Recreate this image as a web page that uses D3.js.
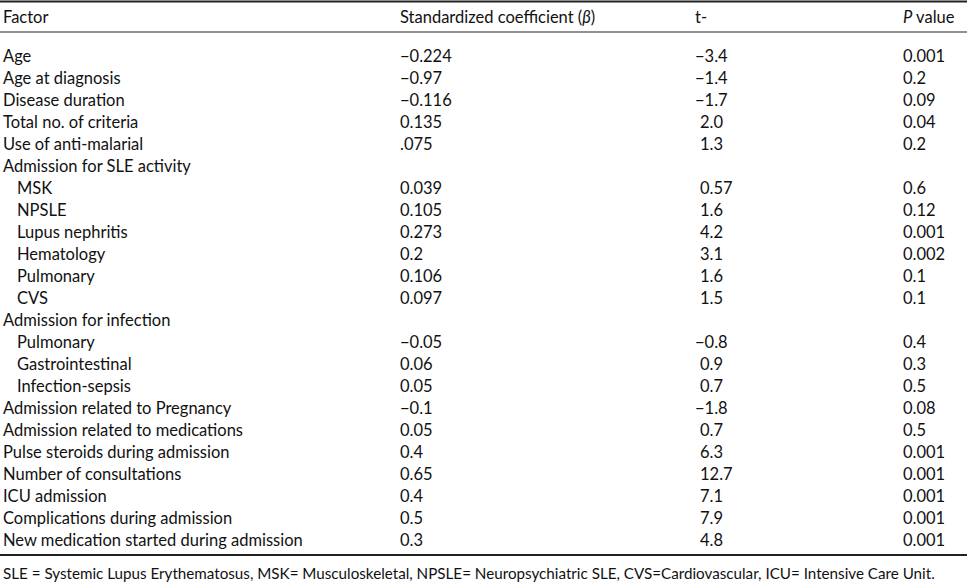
<!DOCTYPE html>
<html><head><meta charset="utf-8">
<script src="https://cdn.jsdelivr.net/npm/d3@7"></script>
<style>body{margin:0;background:#fff}text{font-family:Lato,"Open Sans",sans-serif;font-size:16.5px;fill:#111}</style>
</head><body><svg id="tbl" width="967" height="584"></svg>
<script>
// Table content
const headers = ["Factor", "Standardized coefficient (β)", "t-", "P value"];
const factors = ["Age", "Age at diagnosis", "Disease duration", "Total no. of criteria", "Use of anti-malarial",
  "Admission for SLE activity", "MSK", "NPSLE", "Lupus nephritis", "Hematology", "Pulmonary", "CVS",
  "Admission for infection", "Pulmonary", "Gastrointestinal", "Infection-sepsis",
  "Admission related to Pregnancy", "Admission related to medications", "Pulse steroids during admission",
  "Number of consultations", "ICU admission", "Complications during admission", "New medication started during admission"];
const indented = [6, 7, 8, 9, 10, 11, 13, 14, 15];
const betas = ["−0.224", "−0.97", "−0.116", "0.135", ".075", "", "0.039", "0.105", "0.273", "0.2", "0.106", "0.097",
  "", "−0.05", "0.06", "0.05", "−0.1", "0.05", "0.4", "0.65", "0.4", "0.5", "0.3"];
const tvals = ["−3.4", "−1.4", "−1.7", "2.0", "1.3", "", "0.57", "1.6", "4.2", "3.1", "1.6", "1.5",
  "", "−0.8", "0.9", "0.7", "−1.8", "0.7", "6.3", "12.7", "7.1", "7.9", "4.8"];
const pvals = ["0.001", "0.2", "0.09", "0.04", "0.2", "", "0.6", "0.12", "0.001", "0.002", "0.1", "0.1",
  "", "0.4", "0.3", "0.5", "0.08", "0.5", "0.001", "0.001", "0.001", "0.001", "0.001"];
const footnote = "SLE = Systemic Lupus Erythematosus, MSK= Musculoskeletal, NPSLE= Neuropsychiatric SLE, CVS=Cardiovascular, ICU= Intensive Care Unit.";

const svg = d3.select("#tbl");
const y = d3.scaleLinear().domain([0, factors.length - 1]).range([62, 546]);
const cols = [3, 400, 695, 903];

svg.append("line").attr("x1", 0).attr("x2", 967).attr("y1", 1.5).attr("y2", 1.5).attr("stroke", "#222").attr("stroke-width", 2);
svg.append("line").attr("x1", 0).attr("x2", 967).attr("y1", 32).attr("y2", 32).attr("stroke", "#222").attr("stroke-width", 1);
svg.append("line").attr("x1", 0).attr("x2", 967).attr("y1", 555).attr("y2", 555).attr("stroke", "#222").attr("stroke-width", 2);

const head = svg.selectAll(".h").data(headers).join("text")
  .attr("x", (d, i) => cols[i]).attr("y", 23);
head.each(function(d, i) {
  const t = d3.select(this);
  if (i === 1) { t.text("Standardized coefficient ("); t.append("tspan").style("font-style", "italic").text("β"); t.append("tspan").text(")"); }
  else if (i === 3) { t.append("tspan").style("font-style", "italic").text("P"); t.append("tspan").text(" value"); }
  else t.text(d);
});

const rows = svg.selectAll(".r").data(factors).join("g").attr("transform", (d, i) => `translate(0,${y(i)})`);
rows.append("text").attr("x", (d, i) => indented.includes(i) ? 17 : cols[0]).text(d => d);
rows.append("text").attr("x", (d, i) => cols[1]).text((d, i) => betas[i]);
rows.append("text").attr("x", (d, i) => cols[2] + (tvals[i].startsWith("−") ? 0 : 5)).text((d, i) => tvals[i]);
rows.append("text").attr("x", cols[3]).text((d, i) => pvals[i]);

svg.append("text").attr("x", 3).attr("y", 579).style("font-size", "15.2px").text(footnote);
</script></body></html>
